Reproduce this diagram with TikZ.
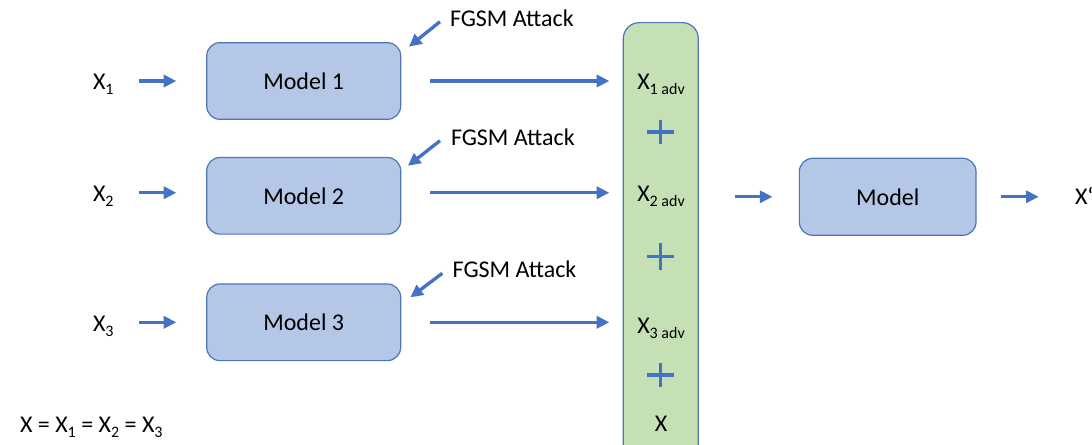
\documentclass[tikz,border=0pt]{standalone}
\usepackage{fontspec}
\setmainfont{Carlito}
\usetikzlibrary{arrows.meta,calc}

\definecolor{boxfill}{HTML}{B4C7E7}
\definecolor{boxline}{HTML}{4F74BA}
\definecolor{colfill}{HTML}{C5E0B4}
\definecolor{arrowblue}{HTML}{4472C4}

% lowered subscript, as in the slide text
\newcommand{\lowsub}[1]{\raisebox{-3.75pt}{\fontsize{12}{12}\selectfont #1}}

\tikzset{
  modelbox/.style={draw=boxline, line width=0.9pt, fill=boxfill, rounded corners=10pt,
    minimum width=145.5pt, minimum height=57.5pt, inner sep=0pt},
  sumcol/.style={draw=boxline, line width=0.9pt, fill=colfill, rounded corners=12pt,
    minimum width=56.25pt, minimum height=335.5pt, inner sep=0pt},
  lbl/.style={inner sep=0pt, outer sep=0pt},
  arr/.style={draw=arrowblue, line width=2.5pt, -{Triangle[length=9.5pt,width=9pt]}},
  plusline/.style={draw=arrowblue, line width=2.4pt},
  plussign/.style={inner sep=0pt, minimum width=20.25pt, minimum height=18pt,
    path picture={\draw[plusline] (path picture bounding box.west) -- (path picture bounding box.east)
      (path picture bounding box.north) -- (path picture bounding box.south);}}
}

\begin{document}
\begin{tikzpicture}[x=0.75pt, y=-0.75pt, font=\fontsize{18}{21}\selectfont]
\useasboundingbox (0,0) rectangle (1092,445);

% three attacked models
\node[modelbox] (m1) at (303.7,81)    {Model 1};
\node[modelbox] (m2) at (303.7,195.8) {Model 2};
\node[modelbox] (m3) at (303.7,322.3) {Model 3};

% inputs
\node[lbl, anchor=base west] (x1) at (93,90)    {X\lowsub{1}};
\node[lbl, anchor=base west] (x2) at (93,201.7) {X\lowsub{2}};
\node[lbl, anchor=base west] (x3) at (93,331.7) {X\lowsub{3}};

% attack labels
\node[lbl, anchor=base west] (f1) at (450,26.7)  {FGSM Attack};
\node[lbl, anchor=base west] (f2) at (451,146)   {FGSM Attack};
\node[lbl, anchor=base west] (f3) at (452.7,277.3) {FGSM Attack};

% combined training set
\node[sumcol] (col) at (660.8,246.3) {};
\node[lbl, anchor=base] (a1) at (661,90)    {X\lowsub{1 adv}};
\node[plussign] (p1) at (660.5,132) {};
\node[lbl, anchor=base] (a2) at (661,201.7) {X\lowsub{2 adv}};
\node[plussign, minimum height=20.25pt] (p2) at (660.5,256.7) {};
\node[lbl, anchor=base] (a3) at (661,333)   {X\lowsub{3 adv}};
\node[plussign] (p3) at (660.5,375) {};
\node[lbl, anchor=base] (a4) at (661,431.7) {X};

% final model and output
\node[modelbox, minimum width=132.5pt, minimum height=57.75pt] (mm) at (887.7,196.8) {Model};
\node[lbl, anchor=base west] (xp) at (1075,204.5) {X‘};

% note
\node[lbl, anchor=base west] (eq) at (20,432.7) {X = X\lowsub{1} = X\lowsub{2} = X\lowsub{3}};

% input arrows
\draw[arr, shorten <=18.75pt, shorten >=22.3pt] (x1.east |- m1.west) -- (m1.west);
\draw[arr, shorten <=18.75pt, shorten >=22.3pt] ([yshift=2.3pt]x2.east |- m2.west) -- ([yshift=2.3pt]m2.west);
\draw[arr, shorten <=18.75pt, shorten >=22.3pt] (x3.east |- m3.west) -- (m3.west);

% attack arrows
\draw[arr] ($(f1.base west)+(-10,-5)$)   -- ($(m1.north east)+(7.6,4.6)$);
\draw[arr] ($(f2.base west)+(-11,-5.3)$) -- ($(m2.north east)+(6.6,9)$);
\draw[arr] ($(f3.base west)+(-10.4,-4)$) -- ($(m3.north east)+(9,14)$);

% adversarial outputs into the set
\draw[arr, shorten <=21.5pt, shorten >=10pt] (m1.east) -- (m1.east -| col.west);
\draw[arr, shorten <=21.5pt, shorten >=10pt] ([yshift=2.3pt]m2.east) -- ([yshift=2.3pt]m2.east -| col.west);
\draw[arr, shorten <=21.5pt, shorten >=10pt] (m3.east) -- (m3.east -| col.west);

% set into final model, final model to output
\draw[arr, shorten <=26.8pt, shorten >=19.7pt] (col.east |- mm.west) -- (mm.west);
\draw[arr, shorten <=18pt, shorten >=27.2pt] (mm.east) -- (xp.west |- mm.east);
\end{tikzpicture}
\end{document}
